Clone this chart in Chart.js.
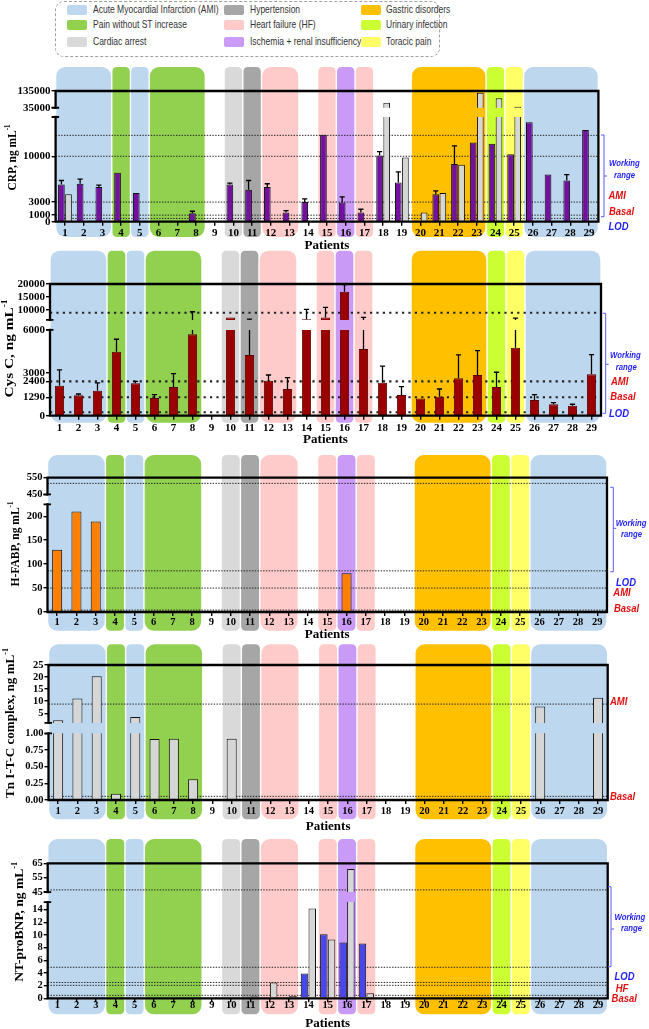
<!DOCTYPE html>
<html>
<head>
<meta charset="utf-8">
<script src="https://cdn.jsdelivr.net/npm/chart.js@4.4.1/dist/chart.umd.min.js"></script>
<style>
  body { margin: 0; width: 649px; height: 1029px; position: relative; background: #fff; overflow: hidden; }
  canvas.panel { position: absolute; left: 0; }
  #legend { position: absolute; left: 55px; top: 1px; width: 385px; height: 56px; border: 1px dashed #a0a0a0; border-radius: 9px; box-sizing: border-box; }
  .sw { position: absolute; width: 20px; height: 10px; border-radius: 2px; }
  .lt { position: absolute; font: 11.2px "Liberation Sans", Arial, sans-serif; color: #333; white-space: nowrap; line-height: 13px; transform: scaleX(0.76); transform-origin: 0 50%; }
</style>
</head>
<body>
<div id="legend"></div>
<script>
// categories
const patients = ['1','2','3','4','5','6','7','8','9','10','11','12','13','14','15','16','17','18','19','20','21','22','23','24','25','26','27','28','29'];

// diagnosis of each patient (index into diagnoses), null = no band
const diagnoses = ['Acute Myocardial Infarction (AMI)', 'Pain without ST increase', 'Cardiac arrest',
  'Hypertension', 'Heart failure (HF)', 'Ischemia + renal insufficiency',
  'Gastric disorders', 'Urinary infection', 'Toracic pain'];
const diagnosisColors = ['#bdd7ee', '#92d050', '#d9d9d9', '#a6a6a6', '#ffcaca', '#c99bf7', '#ffc000', '#ccff33', '#ffff66'];
const patientDiagnosis = [0,0,0,1,0,1,1,1,null,2,3,4,4,null,4,5,4,null,null,6,6,6,6,7,8,0,0,0,0];

// CRP (purple = sensor, grey = hospital method)
const crpSensor    = [5700,5800,5300,7500,4400,null,null,1300,null,5700,4900,5300,1400,3000,13300,2950,1400,10100,6000,null,4200,8800,12100,11900,10300,15200,7200,6300,14000];
const crpSensorErr = [6300,6500,5600,null,null,null,null,1600,null,5900,6300,5800,1700,3500,null,3800,1900,10700,7600,null,4700,11600,null,null,null,null,null,7200,null];
const crpHospital  = [4200,null,null,null,null,null,null,null,null,null,null,null,null,null,null,null,null,65000,9800,1400,4400,8700,125000,91000,41000,null,null,null,null];
const crpTicks = ['0','1000','3000','10000','35000','135000'];
const crpLines = [13200, 10000, 3000, 1000, 500];

// Cys C
const cysSensor    = [2100,1430,1750,4480,2270,1240,2010,5700,null,7000,4250,2450,1870,6300,7000,17000,4670,2310,1450,1210,1330,2620,2850,2010,4760,1100,800,690,2900];
const cysSensorErr = [3200,1520,2300,5350,2400,1470,2940,9200,null,null,6300,2850,2660,10100,10900,19800,7000,3470,2040,null,1870,4250,4550,3040,6700,1480,920,800,4270];
const cysTicks = ['0','1290','2400','3000','6000','10000','15000','20000'];
const cysLines = [8800, 2400, 1290, 240];

// H-FABP
const fabpSensor = [130,210,189,null,null,null,null,null,null,null,null,null,null,null,null,81,null,null,null,null,null,null,null,null,null,null,null,null,null];
const fabpTicks = ['0','50','100','150','200','450','550'];
const fabpLines = [516, 86, 50, 4];

// Tn I-T-C complex
const tnSensor = [2.1,11.1,20.3,0.095,3.4,0.915,0.92,0.31,null,0.92,null,null,null,null,null,null,null,null,null,null,null,null,null,null,null,7.8,null,null,11.4];
const tnTicks = ['0.00','0.25','0.50','0.75','1.00','5','10','15','20','25'];
const tnLines = [8.8, 0.055];

// NT-proBNP (blue = sensor, grey = hospital method)
const bnpSensor   = [null,null,null,null,null,null,null,null,null,null,null,null,null,3.9,10.1,8.8,8.65,null,null,null,null,null,null,null,null,null,null,null,null];
const bnpHospital = [null,null,null,null,null,null,null,null,null,null,0.3,2.5,0.35,14.2,9.3,61,0.8,null,null,null,null,null,null,null,null,null,null,null,null];
const bnpTicks = ['0','2','4','6','8','10','12','14','45','55','65'];
const bnpLines = [46.5, 4.9, 2.5, 2.05, 0.47];

const BLUE = '#1f1fff', RED = '#e01010';

const panels = [
  { canvasTop: 58, canvasBottom: 256, area: [55.6, 91, 598.4, 221.7], bg: [67, 237],
    brk: { lo: 16000, hi: [35000, 135000], fLo: 0.801, fHi: 0.872 },
    ticks: crpTicks, lines: crpLines, heavy: false, catPct: 0.76, barPct: 0.94, yFont: 11, xFont: 11, xPad: 1,
    series: [{ values: crpSensor, err: crpSensorErr, color: '#71119e' }, { values: crpHospital, color: '#d6d6d6' }],
    yTitle: ['CRP, ng mL', '-1', 12.5, 157.5, 66], xTitleY: 245.7,
    bracket: [604, 135, 216.7, 176],
    notes: [['Working', 609, 164, BLUE, 9], ['range', 614, 175.3, BLUE, 9], ['AMI', 608.5, 196, RED, 11], ['Basal', 609, 211.7, RED, 11], ['LOD', 608.5, 226.7, BLUE, 11]] },
  { canvasTop: 246, canvasBottom: 447, area: [50, 284, 601, 415.7], bg: [250.7, 422.7],
    brk: { lo: 6000, hi: [6000, 20000], fLo: 0.651, fHi: 0.727 },
    ticks: cysTicks, lines: cysLines, heavy: true, catPct: 0.8, barPct: 0.61, yFont: 11, xFont: 11, xPad: 1.4,
    series: [{ values: cysSensor, err: cysSensorErr, color: '#9a0000', edge: '#5a0000' }],
    yTitle: ['Cys C, ng mL', '-1', 10, 348.5, 98], xTitleY: 439.3,
    bracket: [605.7, 313.3, 413.3, 364.3],
    notes: [['Working', 610, 356, BLUE, 9], ['range', 615.7, 367.3, BLUE, 9], ['AMI', 611, 381.7, RED, 11], ['Basal', 610.3, 397, RED, 11], ['LOD', 609, 414, BLUE, 11]] },
  { canvasTop: 450, canvasBottom: 643, area: [47.5, 477.7, 607, 612], bg: [455, 630.7],
    brk: { lo: 225, hi: [450, 550], fLo: 0.802, fHi: 0.876 },
    ticks: fabpTicks, lines: fabpLines, heavy: false, catPct: 0.8, barPct: 0.65, yFont: 10.5, xFont: 10.5, xPad: 0.4,
    series: [{ values: fabpSensor, color: '#ff8000' }],
    yTitle: ['H-FABP, ng mL', '-1', 16, 544, 85], xTitleY: 635,
    bracket: [613.3, 487.3, 571.7, 528.3],
    notes: [['Working', 615.7, 523.3, BLUE, 9], ['range', 621, 535, BLUE, 9], ['LOD', 616, 583.3, BLUE, 11], ['AMI', 613.3, 593.3, RED, 11], ['Basal', 614, 609.3, RED, 11]] },
  { canvasTop: 640, canvasBottom: 834, area: [48.5, 665, 607.7, 800], bg: [644.3, 819.3],
    brk: { lo: 1, hi: [1, 25], fLo: 0.494, fHi: 0.571 },
    ticks: tnTicks, lines: tnLines, heavy: false, catPct: 0.8, barPct: 0.65, yFont: 10.5, xFont: 10.5, xPad: 0.7,
    series: [{ values: tnSensor, color: '#d6d6d6' }],
    yTitle: ['Tn I-T-C complex, ng mL', '-1', 10.5, 723, 150], xTitleY: 826.5,
    bracket: null,
    notes: [['AMI', 610, 702, RED, 11], ['Basal', 610, 797, RED, 11]] },
  { canvasTop: 835, canvasBottom: 1029, area: [47.7, 863.3, 607.7, 998.3], bg: [839, 1014.3],
    brk: { lo: 15.2, hi: [45, 65], fLo: 0.713, fHi: 0.787 },
    ticks: bnpTicks, lines: bnpLines, heavy: false, catPct: 0.8, barPct: 0.97, yFont: 10.5, xFont: 10.5, xPad: -3.6,
    series: [{ values: bnpSensor, color: '#4747ea' }, { values: bnpHospital, color: '#d6d6d6' }],
    yTitle: ['NT-proBNP, ng mL', '-1', 19.5, 921.7, 120], xTitleY: 1023.3,
    bracket: [611, 886.7, 966.7, 929],
    notes: [['Working', 614.5, 917.7, BLUE, 9], ['range', 621, 929, BLUE, 9], ['LOD', 614.5, 976.7, BLUE, 11], ['HF', 615.7, 988.7, RED, 11], ['Basal', 611.6, 999, RED, 11]] }
];

// consecutive patients with the same diagnosis share one band
const diagnosisRuns = [];
patientDiagnosis.forEach((d, i) => {
  if (d === null) return;
  const last = diagnosisRuns[diagnosisRuns.length - 1];
  if (last && last.kind === d && last.to === i - 1) last.to = i;
  else diagnosisRuns.push({ kind: d, from: i, to: i });
});

// legend
const legendBox = document.getElementById('legend');
const swatchX = [67, 224, 361], textX = [93, 250, 386], rowY = [9.5, 24.5, 41.5];
diagnoses.forEach((name, i) => {
  const col = Math.floor(i / 3), row = i % 3;
  const sw = document.createElement('div');
  sw.className = 'sw';
  sw.style.left = (swatchX[col] - 56) + 'px';
  sw.style.top = (rowY[row] - 7) + 'px';
  sw.style.background = diagnosisColors[i];
  legendBox.appendChild(sw);
  const t = document.createElement('div');
  t.className = 'lt';
  t.style.left = (textX[col] - 56) + 'px';
  t.style.top = (rowY[row] - 8.5) + 'px';
  t.textContent = name;
  legendBox.appendChild(t);
});

function breakScale(b) {
  return v => {
    if (v == null) return null;
    if (v <= b.lo) return v / b.lo * b.fLo;
    if (v >= b.hi[0]) return b.fHi + (v - b.hi[0]) / (b.hi[1] - b.hi[0]) * (1 - b.fHi);
    return b.fLo + (v - b.lo) / (b.hi[0] - b.lo) * (b.fHi - b.fLo);
  };
}

function roundRect(ctx, x, y, w, h, r) {
  ctx.beginPath();
  ctx.moveTo(x + r, y);
  ctx.arcTo(x + w, y, x + w, y + h, r);
  ctx.arcTo(x + w, y + h, x, y + h, r);
  ctx.arcTo(x, y + h, x, y, r);
  ctx.arcTo(x, y, x + w, y, r);
  ctx.closePath();
}

function makeDecor(p, T) {
  const off = p.canvasTop;
  return {
    id: 'decor',
    beforeDraw(chart) {
      const { ctx, chartArea: a, scales: { x } } = chart;
      const step = (a.right - a.left) / patients.length;
      ctx.save();
      diagnosisRuns.forEach(r => {
        const x0 = x.getPixelForValue(r.from) - step / 2 + 0.7;
        const x1 = x.getPixelForValue(r.to) + step / 2 - 0.7;
        const w = x1 - x0;
        ctx.fillStyle = diagnosisColors[r.kind];
        roundRect(ctx, x0, p.bg[0] - off, w, p.bg[1] - p.bg[0], Math.min(9, w * 0.25));
        ctx.fill();
      });
      ctx.restore();
    },
    beforeDatasetsDraw(chart) {
      const { ctx, chartArea: a, scales: { y } } = chart;
      // threshold lines
      ctx.save();
      ctx.strokeStyle = '#222';
      ctx.lineWidth = p.heavy ? 2.2 : 1;
      ctx.setLineDash(p.heavy ? [2.2, 4.2] : [1.4, 1.4]);
      p.lines.forEach(v => {
        const yy = y.getPixelForValue(T(v));
        ctx.beginPath();
        ctx.moveTo(a.left, yy);
        ctx.lineTo(a.right, yy);
        ctx.stroke();
      });
      ctx.restore();
      // axis break: nothing is drawn inside the gap
      const yLo = y.getPixelForValue(p.brk.fLo), yHi = y.getPixelForValue(p.brk.fHi);
      ctx.save();
      ctx.beginPath();
      ctx.rect(0, 0, chart.width, yHi);
      ctx.rect(0, yLo, chart.width, chart.height - yLo);
      ctx.clip();
    },
    afterDatasetsDraw(chart) {
      const { ctx, scales: { y } } = chart;
      ctx.strokeStyle = '#000';
      ctx.lineWidth = 1.3;
      p.series.forEach((s, d) => {
        if (!s.err) return;
        const meta = chart.getDatasetMeta(d);
        s.err.forEach((e, i) => {
          if (e == null || s.values[i] == null) return;
          const el = meta.data[i];
          const y1 = y.getPixelForValue(T(e));
          ctx.beginPath();
          ctx.moveTo(el.x, el.y);
          ctx.lineTo(el.x, y1);
          ctx.moveTo(el.x - 2.6, y1);
          ctx.lineTo(el.x + 2.6, y1);
          ctx.stroke();
        });
      });
      ctx.restore();
    },
    afterDraw(chart) {
      const { ctx, chartArea: a, scales: { y } } = chart;
      const yLo = y.getPixelForValue(p.brk.fLo), yHi = y.getPixelForValue(p.brk.fHi);
      ctx.save();
      ctx.strokeStyle = '#000';
      ctx.lineWidth = 2.3;
      ctx.lineCap = 'square';
      ctx.beginPath();
      ctx.moveTo(a.left, a.top);
      ctx.lineTo(a.right, a.top);
      ctx.lineTo(a.right, a.bottom);
      ctx.lineTo(a.left, a.bottom);
      ctx.moveTo(a.left, a.bottom);
      ctx.lineTo(a.left, yLo);
      ctx.moveTo(a.left, yHi);
      ctx.lineTo(a.left, a.top);
      ctx.stroke();
      ctx.lineWidth = 1.8;
      ctx.lineCap = 'butt';
      ctx.beginPath();
      ctx.moveTo(a.left - 4, yLo); ctx.lineTo(a.left + 3.5, yLo);
      ctx.moveTo(a.left - 4, yHi); ctx.lineTo(a.left + 3.5, yHi);
      ctx.stroke();

      // axis titles
      ctx.fillStyle = '#000';
      ctx.textBaseline = 'middle';
      ctx.textAlign = 'center';
      ctx.font = 'bold 13px "Liberation Serif"';
      ctx.fillText('Patients', (a.left + a.right) / 2, p.xTitleY - off);

      const [main, sup, cx, cy, len] = p.yTitle;
      ctx.save();
      ctx.translate(cx, cy - off);
      ctx.rotate(-Math.PI / 2);
      ctx.font = 'bold 13px "Liberation Serif"';
      const wm = ctx.measureText(main).width;
      ctx.font = 'bold 8px "Liberation Serif"';
      const ws = ctx.measureText(sup).width;
      ctx.scale(len / (wm + ws), 1);
      ctx.textAlign = 'left';
      const x0 = -(wm + ws) / 2;
      ctx.font = 'bold 13px "Liberation Serif"';
      ctx.fillText(main, x0, 0);
      ctx.font = 'bold 8px "Liberation Serif"';
      ctx.fillText(sup, x0 + wm, -5);
      ctx.restore();

      // right side annotations
      if (p.bracket) {
        const [bx, b1, b2, bm] = p.bracket;
        ctx.strokeStyle = '#5a5aff';
        ctx.lineWidth = 1;
        ctx.beginPath();
        ctx.moveTo(bx - 3, b1 - off); ctx.lineTo(bx, b1 - off); ctx.lineTo(bx, b2 - off); ctx.lineTo(bx - 3, b2 - off);
        ctx.moveTo(bx, bm - off); ctx.lineTo(bx + 3, bm - off);
        ctx.stroke();
      }
      p.notes.forEach(([text, nx, ny, color, size]) => {
        ctx.save();
        ctx.translate(nx, ny - off);
        ctx.scale(0.86, 1);
        ctx.font = 'italic bold ' + size + 'px "Liberation Sans"';
        ctx.fillStyle = color;
        ctx.textAlign = 'left';
        ctx.fillText(text, 0, 0);
        ctx.restore();
      });
      ctx.restore();
    }
  };
}

Chart.defaults.font.family = '"Liberation Serif", "Times New Roman", serif';
Chart.defaults.font.weight = 'bold';
Chart.defaults.color = '#000';

panels.forEach(p => {
  const h = p.canvasBottom - p.canvasTop;
  const [left, top, right, bottom] = p.area;
  const canvas = document.createElement('canvas');
  canvas.className = 'panel';
  canvas.style.top = p.canvasTop + 'px';
  canvas.style.width = '649px';
  canvas.style.height = h + 'px';
  canvas.width = 649;
  canvas.height = h;
  document.body.appendChild(canvas);
  const T = breakScale(p.brk);

  new Chart(canvas, {
    type: 'bar',
    data: {
      labels: patients,
      datasets: p.series.map(s => ({
        data: s.values.map(T),
        backgroundColor: s.color,
        borderColor: s.edge || '#111',
        borderWidth: 1,
        barPercentage: p.barPct,
        categoryPercentage: p.catPct
      }))
    },
    options: {
      responsive: false,
      animation: false,
      layout: { padding: { left: 0, top: top - p.canvasTop, right: 649 - right, bottom: 0 } },
      plugins: { legend: { display: false }, tooltip: { enabled: false } },
      scales: {
        x: {
          offset: true,
          grid: { offset: false, drawOnChartArea: false, tickLength: 4, color: '#000', lineWidth: 1.4 },
          border: { display: false },
          ticks: { font: { size: p.xFont }, padding: p.xPad, autoSkip: false, maxRotation: 0 },
          afterFit: s => { s.height = p.canvasBottom - bottom; }
        },
        y: {
          min: 0,
          max: 1,
          grid: { drawOnChartArea: false, tickLength: 4, color: '#000', lineWidth: 1.4 },
          border: { display: false },
          ticks: { font: { size: p.yFont }, padding: 1, autoSkip: false, callback: (v, i) => p.ticks[i] },
          afterBuildTicks: s => { s.ticks = p.ticks.map(l => ({ value: T(parseFloat(l)) })); },
          afterFit: s => { s.width = left; }
        }
      }
    },
    plugins: [makeDecor(p, T)]
  });
});
</script>
</body>
</html>
